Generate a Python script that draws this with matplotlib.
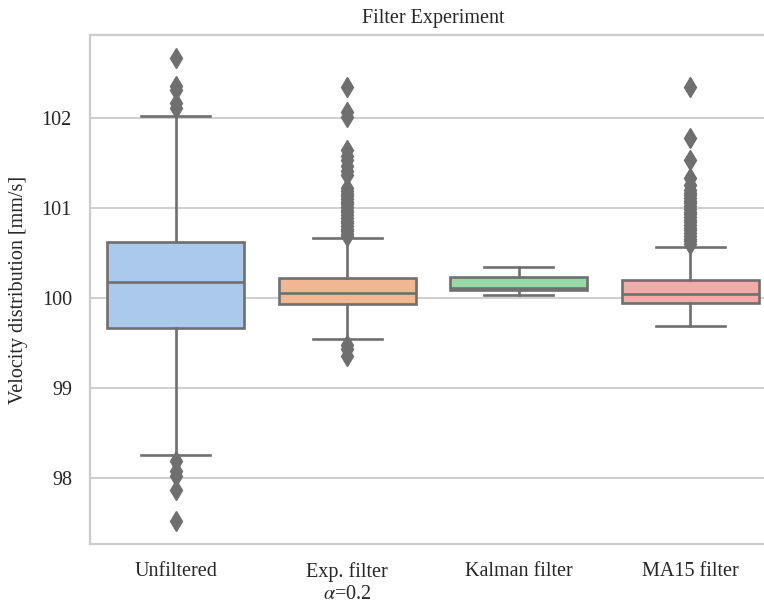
import colorsys
import matplotlib
matplotlib.use("Agg")
import matplotlib.pyplot as plt
import matplotlib.colors as mcolors

plt.rcParams["font.family"] = ["Liberation Serif", "DejaVu Serif"]
plt.rcParams["mathtext.fontset"] = "stix"

# Category labels
labels = ["Unfiltered", "Exp. filter\n$\\alpha$=0.2", "Kalman filter", "MA15 filter"]

# Box statistics [mm/s]
q1 = [99.67, 99.93, 100.09, 99.94]
med = [100.18, 100.06, 100.11, 100.04]
q3 = [100.62, 100.22, 100.23, 100.20]
whislo = [98.26, 99.55, 100.03, 99.69]
whishi = [102.02, 100.67, 100.34, 100.57]

# Outliers
fliers_unfiltered = [102.66, 102.35, 102.31, 102.17, 102.11,
                     98.19, 98.08, 98.02, 97.87, 97.52]
fliers_exp = [102.34, 102.07, 102.01, 101.64, 101.58, 101.53, 101.47, 101.41,
              101.37, 101.22, 101.19, 101.16, 101.13, 101.10, 101.07, 101.04,
              101.01, 100.98, 100.95, 100.92, 100.89, 100.86, 100.83, 100.80,
              100.77, 100.74, 100.71, 100.69, 99.48, 99.43, 99.36]
fliers_kalman = []
fliers_ma15 = [102.34, 101.78, 101.53, 101.33, 101.26, 101.20, 101.17, 101.14,
               101.11, 101.08, 101.05, 101.02, 100.99, 100.96, 100.93, 100.90,
               100.87, 100.84, 100.81, 100.78, 100.75, 100.72, 100.69, 100.66,
               100.63, 100.60]
fliers = [fliers_unfiltered, fliers_exp, fliers_kalman, fliers_ma15]

palette = ["#a1c9f4", "#ffb482", "#8de5a1", "#ff9f9b"]


def desaturate(color, prop):
    h, l, s = colorsys.rgb_to_hls(*mcolors.to_rgb(color))
    return colorsys.hls_to_rgb(h, l, s * prop)


box_colors = [desaturate(c, 0.75) for c in palette]
gray = "#6f6f6f"
lw = 1.9

stats = []
for i in range(len(labels)):
    stats.append(dict(med=med[i], q1=q1[i], q3=q3[i], whislo=whislo[i],
                      whishi=whishi[i], fliers=fliers[i], label=labels[i]))

fig = plt.figure(figsize=(7.64, 6.03), dpi=100)
ax = fig.add_axes([90 / 764, 1 - 544 / 603, 686 / 764, 509 / 603])

bp = ax.bxp(stats, positions=range(len(labels)), widths=0.8, patch_artist=True,
            boxprops=dict(edgecolor=gray, linewidth=lw),
            whiskerprops=dict(color=gray, linewidth=lw),
            capprops=dict(color=gray, linewidth=lw),
            medianprops=dict(color=gray, linewidth=lw),
            flierprops=dict(marker="d", markerfacecolor=gray, markeredgecolor=gray,
                            markersize=10),
            capwidths=0.4)
for patch, c in zip(bp["boxes"], box_colors):
    patch.set_facecolor(c)

ax.set_xlim(-0.5, 3.5)
ax.set_ylim(97.27, 102.92)
ax.set_yticks([98, 99, 100, 101, 102])

ax.set_axisbelow(True)
ax.yaxis.grid(True, color="#cccccc", linewidth=1.3)
ax.xaxis.grid(False)
for sp in ax.spines.values():
    sp.set_color("#cccccc")
    sp.set_linewidth(1.6)

ax.tick_params(axis="both", length=0, pad=13, labelsize=14.5, colors="#262626")
ax.set_ylabel("Velocity distribution [mm/s]", fontsize=14.5, color="#262626", labelpad=10)
ax.set_title("Filter Experiment", fontsize=14.5, color="#262626", pad=9)

fig.savefig("out.png", dpi=100)
